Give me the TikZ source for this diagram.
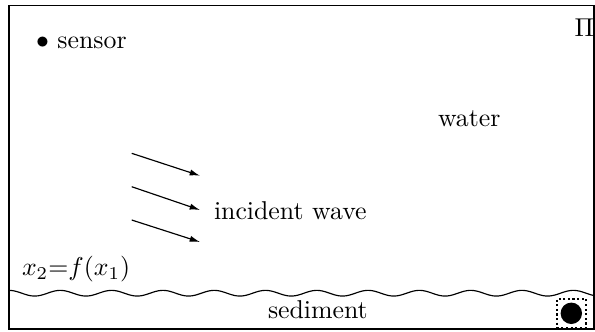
\documentclass[tikz,border=0pt]{standalone}
\usetikzlibrary{arrows.meta,fit}
\begin{document}
\begin{tikzpicture}[x=0.3876pt,y=-0.3876pt,
  lbl/.style={anchor=base west,inner sep=0pt,outer sep=0pt},
  wavearrow/.style={-{Latex[length=4pt,width=2.4pt]},line width=0.45pt},
  frame/.style={line width=0.55pt},
  dotbox/.style={draw,line width=0.8pt,densely dotted,inner sep=1.3pt}]
\useasboundingbox (0,0) rectangle (595,331);
% frame
\draw[frame] (9,5.5) rectangle (594,329);
% labels
\node[lbl] (sensor) at (36,48) {$\bullet$ sensor};
\node[lbl] (pi) at (574.5,36.5) {$\Pi$};
\node[lbl] (water) at (438,126) {water};
\node[lbl] (inc) at (214,219) {incident wave};
\node[lbl] (bdry) at (22,275.5) {$x_2{=}f(x_1)$};
\node[lbl] (sed) at (268,318) {sediment};
% incident wave arrows
\coordinate (a1s) at (131.7,153.3); \coordinate (a1e) at (200,175.7);
\coordinate (a2s) at (131.7,186.7); \coordinate (a2e) at (200,210);
\coordinate (a3s) at (131.7,220);   \coordinate (a3e) at (200,242);
\draw[wavearrow] (a1s) -- (a1e);
\draw[wavearrow] (a2s) -- (a2e);
\draw[wavearrow] (a3s) -- (a3e);
% wavy interface
\draw[line width=0.45pt] plot[domain=9:594,samples=240,smooth] (\x,{293.2-2.85*cos((\x-9)*7.0175)});
% scatterer
\node[circle,fill=black,minimum size=8.3pt,inner sep=0pt] (ball) at (571.3,313.3) {};
\node[dotbox,fit=(ball)] (box) {};
\end{tikzpicture}
\end{document}
